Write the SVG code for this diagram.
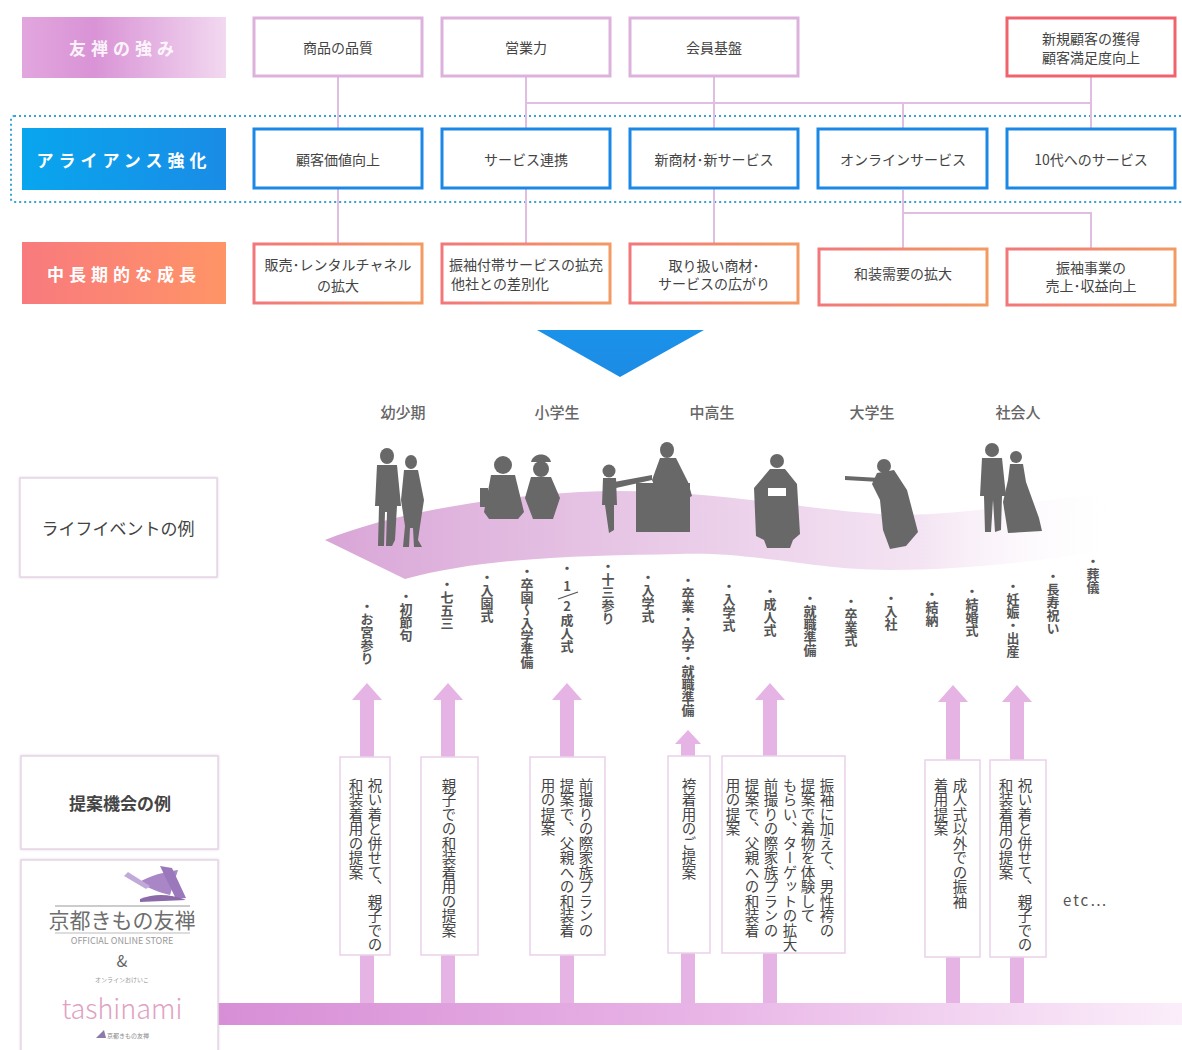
<svg xmlns="http://www.w3.org/2000/svg" width="1182" height="1050" viewBox="0 0 1182 1050">
  <defs>
    <linearGradient id="gStrength" x1="0" x2="1" y1="0" y2="0">
      <stop offset="0" stop-color="#e2a6de"/>
      <stop offset="0.35" stop-color="#d993d6"/>
      <stop offset="1" stop-color="#f2d8f0"/>
    </linearGradient>
    <linearGradient id="gAlliance" x1="0" x2="1" y1="0" y2="0">
      <stop offset="0" stop-color="#08a6ee"/>
      <stop offset="1" stop-color="#1a8ce6"/>
    </linearGradient>
    <linearGradient id="gGrowth" x1="0" x2="1" y1="0" y2="0">
      <stop offset="0" stop-color="#f87a7e"/>
      <stop offset="1" stop-color="#ff9466"/>
    </linearGradient>
    <linearGradient id="gOrange" x1="0" x2="1" y1="0" y2="0">
      <stop offset="0" stop-color="#f2777a"/>
      <stop offset="1" stop-color="#f39a63"/>
    </linearGradient>
    <linearGradient id="gTri" x1="0" x2="0" y1="0" y2="1">
      <stop offset="0" stop-color="#1a92ea"/>
      <stop offset="1" stop-color="#1d8be4"/>
    </linearGradient>
    <linearGradient id="gRibbon" x1="325" x2="1120" y1="0" y2="0" gradientUnits="userSpaceOnUse">
      <stop offset="0" stop-color="#d9a6d7"/>
      <stop offset="0.4" stop-color="#e8c8e6"/>
      <stop offset="0.75" stop-color="#f4e4f3"/>
      <stop offset="1" stop-color="#ffffff" stop-opacity="0"/>
    </linearGradient>
    <linearGradient id="gBar" x1="218" x2="1182" y1="0" y2="0" gradientUnits="userSpaceOnUse">
      <stop offset="0" stop-color="#d78ed6"/>
      <stop offset="0.5" stop-color="#e8b4e6"/>
      <stop offset="1" stop-color="#fbeefa"/>
    </linearGradient>
    <filter id="soft" x="-5%" y="-5%" width="110%" height="110%">
      <feDropShadow dx="0" dy="0" stdDeviation="1.2" flood-color="#c8b0c8" flood-opacity="0.6"/>
    </filter>
  </defs>
  <style>
    text { font-family: "Noto Sans CJK JP", "Noto Sans", sans-serif; }
    .lab { fill: #ffffff; font-size: 17px; font-weight: 700; letter-spacing: 5px; text-anchor: middle; dominant-baseline: central; }
    .nt { fill: #444; font-size: 14px; text-anchor: middle; dominant-baseline: central; }
    .pinkBox { fill: #fff; stroke: #dcb2dc; stroke-width: 3; }
    .redBox { fill: #fff; stroke: #f0626c; stroke-width: 3; }
    .blueBox { fill: #fff; stroke: #1c88e6; stroke-width: 3; }
    .orBox { fill: #fff; stroke: url(#gOrange); stroke-width: 3; }
    .link { fill: none; stroke: #e2bde2; stroke-width: 2; }
    .stage { fill: #666; font-size: 15px; font-weight: 500; text-anchor: middle; }
    .sil { fill: #686868; }
    .ev { fill: #555; font-size: 13px; font-weight: 700; writing-mode: vertical-rl; }
    .shaft { fill: #e5b3e4; }
    .pbox { fill: #fff; stroke: #ead2ea; stroke-width: 1.5; }
    .pt { fill: #444; font-size: 14.5px; writing-mode: vertical-rl; }
    .side { fill: #fff; stroke: #e6d6e6; stroke-width: 1.5; }
    .sideT { fill: #444; font-size: 17px; text-anchor: middle; dominant-baseline: central; }
  </style>

  <!-- row labels -->
  <g id="label-strength"><rect x="22" y="17" width="204" height="61" fill="url(#gStrength)"/><text class="lab" x="124" y="47" fill-opacity="0.9">友禅の強み</text></g>
  <g id="label-alliance"><rect x="22" y="128" width="204" height="62" fill="url(#gAlliance)"/><text class="lab" x="124" y="159">アライアンス強化</text></g>
  <g id="label-growth"><rect x="22" y="242" width="204" height="62" fill="url(#gGrowth)"/><text class="lab" x="124" y="273">中長期的な成長</text></g>

  <!-- alliance band -->
  <rect x="11" y="116" width="1185" height="86" rx="3" fill="none" stroke="#3aa2d4" stroke-width="2" stroke-dasharray="2 3"/>

  <!-- connectors -->
  <g id="connectors">
    <path class="link" d="M338,76 V243"/>
    <path class="link" d="M526,76 V243"/>
    <path class="link" d="M714,76 V243"/>
    <path class="link" d="M526,103 H1091"/>
    <path class="link" d="M903,103 V128"/>
    <path class="link" d="M1091,76 V128"/>
    <path class="link" d="M903,190 V248"/>
    <path class="link" d="M903,213 H1091 V248"/>
  </g>

  <!-- strengths -->
  <g id="n-quality"><rect class="pinkBox" x="254" y="18" width="168" height="58"/><text class="nt" x="338" y="47">商品の品質</text></g>
  <g id="n-sales"><rect class="pinkBox" x="442" y="18" width="168" height="58"/><text class="nt" x="526" y="47">営業力</text></g>
  <g id="n-members"><rect class="pinkBox" x="630" y="18" width="168" height="58"/><text class="nt" x="714" y="47">会員基盤</text></g>
  <g id="n-newcustomers"><rect class="redBox" x="1007" y="18" width="168" height="58"/><text class="nt" x="1091" y="38">新規顧客の獲得</text><text class="nt" x="1091" y="57">顧客満足度向上</text></g>

  <!-- alliance items -->
  <g id="n-value"><rect class="blueBox" x="254" y="129" width="168" height="59"/><text class="nt" x="338" y="159">顧客価値向上</text></g>
  <g id="n-service"><rect class="blueBox" x="442" y="129" width="168" height="59"/><text class="nt" x="526" y="159">サービス連携</text></g>
  <g id="n-newitems"><rect class="blueBox" x="630" y="129" width="168" height="59"/><text class="nt" x="714" y="159">新商材･新サービス</text></g>
  <g id="n-online"><rect class="blueBox" x="818" y="129" width="169" height="59"/><text class="nt" x="903" y="159">オンラインサービス</text></g>
  <g id="n-teens"><rect class="blueBox" x="1007" y="129" width="168" height="59"/><text class="nt" x="1091" y="159">10代へのサービス</text></g>

  <!-- growth items -->
  <g id="n-channel"><rect class="orBox" x="254" y="244" width="168" height="59"/><text class="nt" x="338" y="264">販売･レンタルチャネル</text><text class="nt" x="338" y="285">の拡大</text></g>
  <g id="n-furisode-svc"><rect class="orBox" x="442" y="244" width="168" height="59"/><text class="nt" x="526" y="264">振袖付帯サービスの拡充</text><text class="nt" x="500" y="283">他社との差別化</text></g>
  <g id="n-range"><rect class="orBox" x="630" y="244" width="168" height="59"/><text class="nt" x="714" y="265">取り扱い商材･</text><text class="nt" x="714" y="283">サービスの広がり</text></g>
  <g id="n-demand"><rect class="orBox" x="819" y="249" width="168" height="56"/><text class="nt" x="903" y="273">和装需要の拡大</text></g>
  <g id="n-revenue"><rect class="orBox" x="1007" y="249" width="168" height="56"/><text class="nt" x="1091" y="267">振袖事業の</text><text class="nt" x="1091" y="285">売上･収益向上</text></g>

  <!-- down arrow -->
  <polygon points="537,330 704,330 620,377" fill="url(#gTri)"/>

  <!-- stage headings -->
  <text class="stage" x="403" y="418">幼少期</text>
  <text class="stage" x="557" y="418">小学生</text>
  <text class="stage" x="712" y="418">中高生</text>
  <text class="stage" x="872" y="418">大学生</text>
  <text class="stage" x="1018" y="418">社会人</text>

  <!-- life ribbon -->
  <path d="M325,540 C380,518 470,498 580,492 C690,486 790,508 880,514 C960,519 1040,498 1120,492 L1120,548 C1040,562 960,570 890,570 C810,570 760,552 680,554 C590,556 490,556 405,579 Z" fill="url(#gRibbon)"/>

  <!-- silhouettes -->
  <g id="sil-parents" class="sil">
    <ellipse cx="387" cy="456" rx="7" ry="8"/>
    <path d="M377,465 L397,465 L401,506 L397,506 L395,540 L392,546 L386,546 L387,512 L385,512 L384,546 L378,546 L379,506 L375,506 Z"/>
    <ellipse cx="411" cy="462" rx="6" ry="7"/>
    <path d="M404,470 L418,470 L424,500 L420,526 L418,540 L422,547 L414,547 L413,528 L410,528 L409,547 L403,547 L405,526 L401,500 Z"/>
  </g>
  <g id="sil-children" class="sil">
    <circle cx="503" cy="465" r="9"/>
    <path d="M491,475 L515,475 L524,512 L518,519 L489,519 L484,512 Z"/>
    <rect x="480" y="488" width="8" height="19"/>
    <path d="M531,462 C533,452 549,452 551,462 Z"/>
    <circle cx="541" cy="469" r="8"/>
    <path d="M531,477 L551,477 L560,498 L553,519 L533,519 L525,498 Z"/>
  </g>
  <g id="sil-ceremony" class="sil">
    <circle cx="609" cy="471" r="6.5"/>
    <path d="M603,478 L616,478 L617,505 L614,505 L614,530 L609,533 L605,505 L602,505 Z"/>
    <path d="M614,482 L652,475 L652,480 L616,488 Z"/>
    <rect x="636" y="483" width="54" height="49"/>
    <ellipse cx="667" cy="450" rx="7" ry="8"/>
    <path d="M660,458 L676,458 L688,482 L692,496 L684,500 L660,500 L652,480 Z"/>
  </g>
  <g id="sil-furisode" class="sil">
    <circle cx="777" cy="461" r="7"/>
    <path d="M770,469 L785,469 L797,484 L800,534 L793,540 L790,548 L767,548 L764,540 L756,536 L754,488 Z"/>
    <rect x="768" y="488" width="18" height="8" fill="#ffffff"/>
  </g>
  <g id="sil-graduate" class="sil">
    <circle cx="884" cy="466" r="7"/>
    <path d="M877,473 L894,470 L907,490 L918,532 L906,546 L890,549 L883,530 L880,500 L872,484 Z"/>
    <path d="M845,476 L880,478 L880,482 L845,480 Z"/>
  </g>
  <g id="sil-couple" class="sil">
    <circle cx="992" cy="450" r="7"/>
    <path d="M982,458 L1002,458 L1006,496 L1002,496 L1001,530 L995,532 L993,500 L991,532 L985,532 L984,496 L980,496 Z"/>
    <circle cx="1016" cy="457" r="6"/>
    <path d="M1010,464 L1023,464 L1026,482 L1039,518 L1042,531 L1008,533 L1003,502 L1008,480 Z"/>
  </g>

  <!-- life events -->
  <g id="events">
    <text class="ev" x="367" y="600">・お宮参り</text>
    <text class="ev" x="406" y="590">・初節句</text>
    <text class="ev" x="447" y="578">・七五三</text>
    <text class="ev" x="487" y="571">・入園式</text>
    <text class="ev" x="527" y="565">・卒園～入学準備</text>
    <text class="ev" x="567" y="562">・</text>
    <text x="567" y="591" fill="#555" font-size="13" font-weight="700" text-anchor="middle">1</text>
    <path d="M558,599 L578,592" stroke="#555" stroke-width="1.3"/>
    <text x="567" y="611" fill="#555" font-size="13" font-weight="700" text-anchor="middle">2</text>
    <text class="ev" x="567" y="614">成人式</text>
    <text class="ev" x="608" y="560">・十三参り</text>
    <text class="ev" x="648" y="571">・入学式</text>
    <text class="ev" x="688" y="574">・卒業・入学・就職準備</text>
    <text class="ev" x="729" y="580">・入学式</text>
    <text class="ev" x="770" y="585">・成人式</text>
    <text class="ev" x="810" y="592">・就職準備</text>
    <text class="ev" x="851" y="595">・卒業式</text>
    <text class="ev" x="891" y="592">・入社</text>
    <text class="ev" x="932" y="588">・結納</text>
    <text class="ev" x="972" y="585">・結婚式</text>
    <text class="ev" x="1013" y="580">・妊娠・出産</text>
    <text class="ev" x="1053" y="570">・長寿祝い</text>
    <text class="ev" x="1093" y="555">・葬儀</text>
  </g>

  <!-- proposal flow: bar, shafts and arrowheads -->
  <g id="flow">
    <rect x="218" y="1003" width="964" height="22" fill="url(#gBar)"/>
    <path class="shaft" d="M352,700 L367,683 L382,700 L374,700 L374,1003 L360,1003 L360,700 Z"/>
    <path class="shaft" d="M433,700 L448,683 L463,700 L455,700 L455,1003 L441,1003 L441,700 Z"/>
    <path class="shaft" d="M552,700 L567,683 L582,700 L574,700 L574,1003 L560,1003 L560,700 Z"/>
    <path class="shaft" d="M675,744 L688,730 L701,744 L695,744 L695,1003 L681,1003 L681,744 Z"/>
    <path class="shaft" d="M755,700 L770,683 L785,700 L777,700 L777,1003 L763,1003 L763,700 Z"/>
    <path class="shaft" d="M938,702 L953,685 L968,702 L960,702 L960,1003 L946,1003 L946,702 Z"/>
    <path class="shaft" d="M1002,702 L1017,685 L1032,702 L1024,702 L1024,1003 L1010,1003 L1010,702 Z"/>
  </g>

  <!-- proposal boxes -->
  <g id="p-celebration"><rect class="pbox" x="340" y="757" width="50" height="198"/><text class="pt" x="375" y="778">祝い着と併せて、親子での</text><text class="pt" x="356" y="778">和装着用の提案</text></g>
  <g id="p-family"><rect class="pbox" x="421" y="757" width="57" height="198"/><text class="pt" x="449" y="778">親子での和装着用の提案</text></g>
  <g id="p-photo"><rect class="pbox" x="530" y="757" width="75" height="198"/><text class="pt" x="586" y="778">前撮りの際家族プランの</text><text class="pt" x="567" y="778">提案で、父親への和装着</text><text class="pt" x="548" y="778">用の提案</text></g>
  <g id="p-hakama"><rect class="pbox" x="668" y="756" width="42" height="197"/><text class="pt" x="689" y="778">袴着用のご提案</text></g>
  <g id="p-coming-of-age"><rect class="pbox" x="722" y="756" width="123" height="197"/>
    <text class="pt" x="827" y="778">振袖に加えて、男性袴の</text>
    <text class="pt" x="808" y="778">提案で着物を体験して</text>
    <text class="pt" x="790" y="778">もらい、ターゲットの拡大</text>
    <text class="pt" x="771" y="778">前撮りの際家族プランの</text>
    <text class="pt" x="752" y="778">提案で、父親への和装着</text>
    <text class="pt" x="733" y="778">用の提案</text>
  </g>
  <g id="p-furisode"><rect class="pbox" x="925" y="760" width="55" height="197"/><text class="pt" x="960" y="778">成人式以外での振袖</text><text class="pt" x="941" y="778">着用提案</text></g>
  <g id="p-celebration2"><rect class="pbox" x="990" y="760" width="56" height="197"/><text class="pt" x="1025" y="778">祝い着と併せて、親子での</text><text class="pt" x="1006" y="778">和装着用の提案</text></g>
  <text x="1063" y="906" fill="#555" font-size="15" letter-spacing="2">etc…</text>

  <!-- side labels -->
  <g id="side-events"><rect class="side" x="20" y="478" width="197" height="99" filter="url(#soft)"/><text class="sideT" x="118" y="527">ライフイベントの例</text></g>
  <g id="side-proposals"><rect class="side" x="21" y="756" width="197" height="93" filter="url(#soft)"/><text class="sideT" x="120" y="802" font-weight="700">提案機会の例</text></g>
  <g id="side-stores">
    <rect class="side" x="21" y="860" width="197" height="200" filter="url(#soft)"/>
    <path d="M138,883 C150,875 165,872 178,870 L170,895 C160,893 150,888 138,883 Z" fill="#a986c6"/>
    <path d="M160,866 L172,868 L186,898 L176,899 Z" fill="#9b78bc"/>
    <path d="M128,872 L150,886 L146,889 L124,876 Z" fill="#c2aad8"/>
    <path d="M140,899 C155,893 170,894 186,900 L140,902 Z" fill="#8c6aa8"/>
    <line x1="55" y1="906" x2="190" y2="906" stroke="#999" stroke-width="1"/>
    <text x="122" y="928" fill="#6e6e6e" font-size="21" text-anchor="middle" font-family="'Noto Serif CJK JP', 'Noto Sans CJK JP', serif">京都きもの友禅</text>
    <line x1="55" y1="933" x2="190" y2="933" stroke="#aaa" stroke-width="0.8"/>
    <text x="122" y="944" fill="#999" font-size="9" text-anchor="middle" font-family="'Liberation Serif', serif">OFFICIAL ONLINE STORE</text>
    <text x="122" y="967" fill="#666" font-size="16" text-anchor="middle" font-family="'Liberation Sans', sans-serif">&amp;</text>
    <text x="122" y="982" fill="#999" font-size="6" text-anchor="middle">オンラインおけいこ</text>
    <text x="122" y="1019" fill="#e0a2c2" font-size="27" font-weight="300" text-anchor="middle" font-family="Lato, 'Open Sans', sans-serif">tashinami</text>
    <path d="M96,1038 L104,1030 L106,1038 Z" fill="#8c7aa8"/>
    <text x="128" y="1038" fill="#888" font-size="6" text-anchor="middle">京都きもの友禅</text>
  </g>
</svg>
